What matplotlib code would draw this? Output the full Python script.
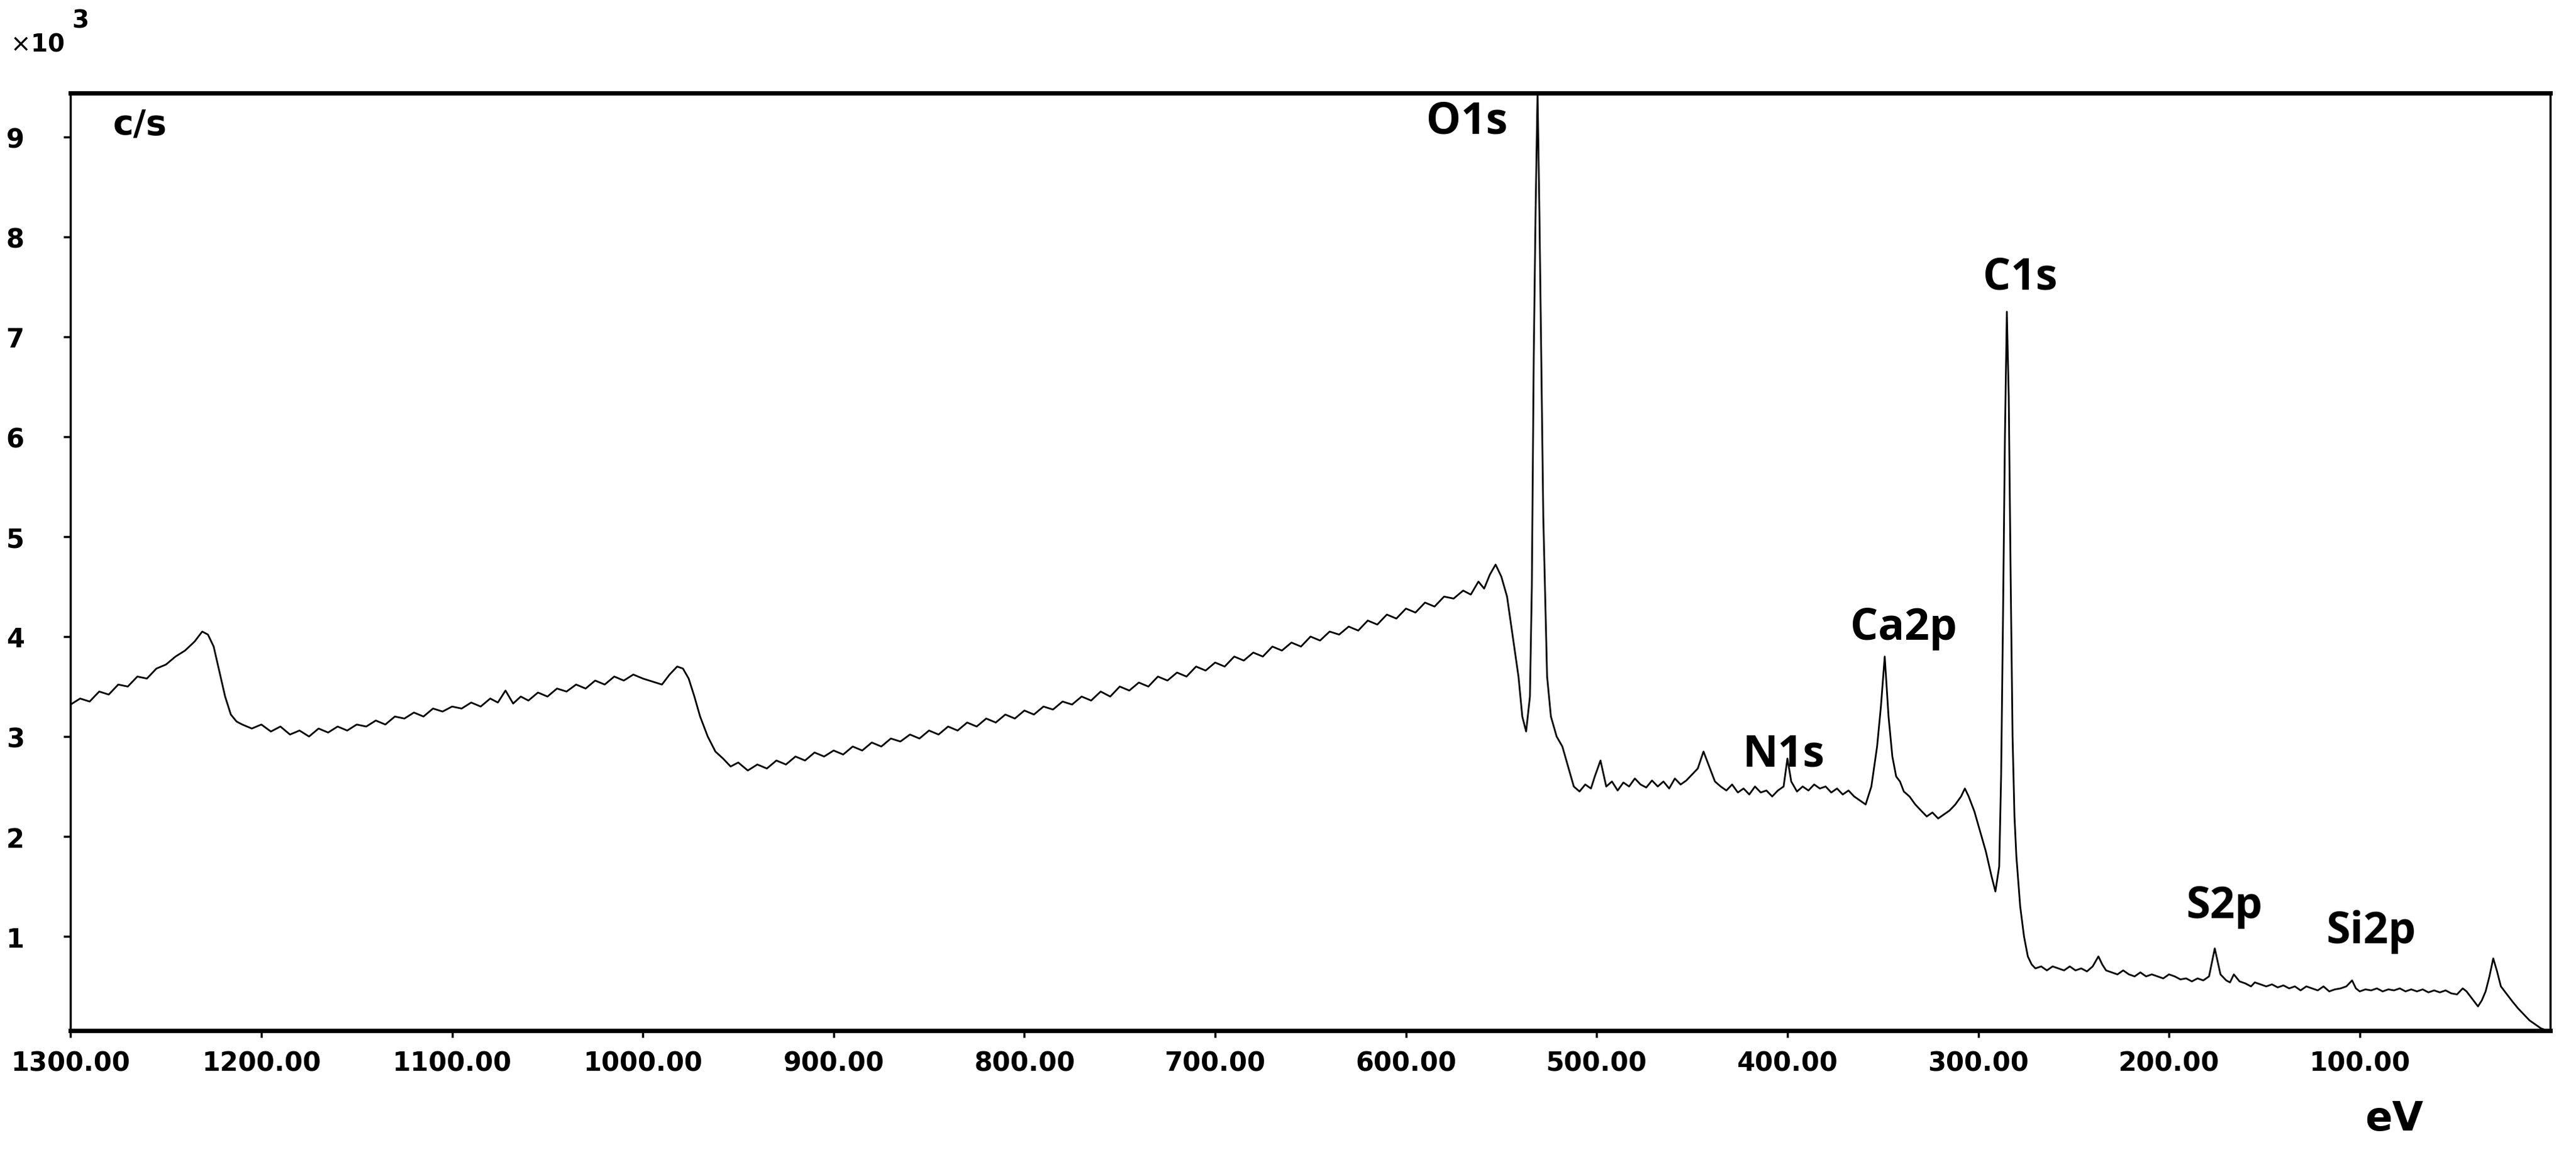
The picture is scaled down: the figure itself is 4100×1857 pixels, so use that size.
import matplotlib
matplotlib.use("Agg")
import matplotlib.pyplot as plt

binding_energy = [
1300,1295,1290,1285,1280,1275,1270,1265,1260,1255,1250,1245,1240,1235,1231,1228,1225,1222,1219,1216,1213,1210,
1205,1200,1195,1190,1185,1180,1175,1170,1165,1160,1155,1150,1145,1140,1135,1130,1125,1120,1115,1110,1105,1100,
1095,1090,1085,1080,1076,1072,1068,1064,1060,1055,1050,1045,1040,1035,1030,1025,1020,1015,1010,1005,1000,995,990,
986,982,979,976,973,970,966,962,958,954,950,945,940,935,930,925,920,915,910,905,900,895,890,885,880,875,870,865,860,
855,850,845,840,835,830,825,820,815,810,805,800,795,790,785,780,775,770,765,760,755,750,745,740,735,730,725,720,715,
710,705,700,695,690,685,680,675,670,665,660,655,650,645,640,635,630,625,620,615,610,605,600,595,590,585,580,575,570,
566,562,559,556,553,550,547,544,541,539,537,535,534,533,532,531,530,528,526,524,521,518,515,512,509,506,503,501,498,
495,492,489,486,483,480,477,474,471,468,465,462,459,456,453,450,447,444,441,438,435,432,429,426,423,420,417,414,411,
408,405,402,400,398,395,392,389,386,383,380,377,374,371,368,365,362,359,356,353,351,349,347,345,343,341,339,336,333,
330,327,324,321,318,315,312,309,307,305,302,299,296,293,291,289,288,287,286,285,284,283,282,281,280,278,276,274,272,
270,267,264,261,258,255,252,249,246,243,240,237,235,233,230,227,224,221,218,215,212,209,206,203,200,197,194,191,188,
185,182,179,176,173,170,168,166,163,160,157,155,152,149,146,143,140,137,134,131,128,125,122,119,116,113,110,107,104,
102,100,97,94,91,88,85,82,79,76,73,70,67,64,61,58,55,52,49,46,44,42,40,38,36,34,32,30,28,26,24,22,20,17,14,11,8,5,2,0]

counts_k = [
3.32,3.38,3.35,3.45,3.42,3.52,3.50,3.60,3.58,3.68,3.72,3.80,3.86,3.95,4.05,4.02,3.90,3.65,3.40,3.22,3.15,3.12,
3.08,3.12,3.05,3.10,3.02,3.06,3.00,3.08,3.04,3.10,3.06,3.12,3.10,3.16,3.12,3.20,3.18,3.24,3.20,3.28,3.25,3.30,
3.28,3.34,3.30,3.38,3.34,3.46,3.33,3.40,3.36,3.44,3.40,3.48,3.45,3.52,3.48,3.56,3.52,3.60,3.56,3.62,3.58,3.55,3.52,
3.62,3.70,3.68,3.58,3.40,3.20,3.00,2.85,2.78,2.70,2.74,2.66,2.72,2.68,2.76,2.72,2.80,2.76,2.84,2.80,2.86,2.82,2.90,2.86,2.94,2.90,2.98,2.95,3.02,
2.98,3.06,3.02,3.10,3.06,3.14,3.10,3.18,3.14,3.22,3.18,3.26,3.22,3.30,3.27,3.35,3.32,3.40,3.36,3.45,3.40,3.50,3.46,3.54,3.50,3.60,3.56,3.64,3.60,
3.70,3.66,3.74,3.70,3.80,3.76,3.84,3.80,3.90,3.86,3.94,3.90,4.00,3.96,4.05,4.02,4.10,4.06,4.16,4.12,4.22,4.18,4.28,4.24,4.34,4.30,4.40,4.38,4.46,
4.42,4.55,4.48,4.62,4.72,4.60,4.40,4.00,3.60,3.20,3.05,3.40,4.50,6.80,8.30,9.45,8.20,5.20,3.60,3.20,3.00,2.90,2.70,2.50,2.45,2.52,2.48,2.60,2.76,2.50,
2.55,2.46,2.54,2.50,2.58,2.52,2.49,2.56,2.50,2.55,2.48,2.58,2.52,2.56,2.62,2.68,2.85,2.70,2.55,2.50,2.46,2.52,2.44,2.48,2.42,2.50,2.44,2.46,2.40,
2.46,2.50,2.78,2.55,2.45,2.50,2.46,2.52,2.48,2.50,2.44,2.48,2.42,2.46,2.40,2.36,2.32,2.50,2.90,3.30,3.80,3.20,2.80,2.60,2.55,2.45,2.40,2.32,2.26,
2.20,2.24,2.18,2.22,2.26,2.32,2.40,2.48,2.40,2.25,2.05,1.85,1.60,1.45,1.70,2.60,4.20,6.00,7.25,6.40,4.60,3.00,2.20,1.80,1.30,1.00,0.80,0.72,
0.68,0.70,0.66,0.70,0.68,0.66,0.70,0.66,0.68,0.65,0.70,0.80,0.72,0.66,0.64,0.62,0.66,0.62,0.60,0.64,0.60,0.62,0.60,0.58,0.62,0.60,0.57,0.58,0.55,
0.58,0.56,0.60,0.88,0.62,0.56,0.54,0.62,0.55,0.53,0.50,0.54,0.52,0.50,0.52,0.49,0.51,0.48,0.50,0.46,0.50,0.48,0.46,0.50,0.45,0.47,0.48,0.50,
0.56,0.48,0.45,0.47,0.46,0.48,0.45,0.47,0.46,0.48,0.45,0.47,0.45,0.47,0.44,0.46,0.44,0.46,0.43,0.42,0.48,0.45,0.40,0.35,0.30,0.36,0.45,0.60,
0.78,0.65,0.50,0.45,0.40,0.35,0.28,0.22,0.16,0.12,0.08,0.06,0.04]

x_ticks = [1300,1200,1100,1000,900,800,700,600,500,400,300,200,100]
y_ticks = [1,2,3,4,5,6,7,8,9]
peak_names = ["O1s","C1s","Ca2p","N1s","S2p","Si2p"]
peak_lab_x = [568,278,339,402,171,94]
peak_lab_y = [9.15,7.59,4.09,2.82,1.3,1.05]

fig = plt.figure(figsize=(41,18.58), dpi=100)
ax = fig.add_axes([0.0274,0.117,0.9627,0.803])
ax.plot(binding_energy, counts_k, color="black", lw=2.0)
ax.set_xlim(1300,0)
ax.set_ylim(0.06,9.44)
ax.set_xticks(x_ticks)
ax.set_xticklabels([f"{t:.2f}" for t in x_ticks])
ax.set_yticks(y_ticks)
for s in ax.spines.values():
    s.set_linewidth(2.5)
ax.spines["top"].set_linewidth(5)
ax.spines["bottom"].set_linewidth(5)
ax.tick_params(axis="both", direction="out", length=8, width=2.5, labelsize=30)
for lab in ax.get_xticklabels()+ax.get_yticklabels():
    lab.set_fontweight("bold")
ax.tick_params(axis="y", pad=45)
ax.tick_params(axis="x", pad=14)
for n,px,py in zip(peak_names,peak_lab_x,peak_lab_y):
    ax.text(px, py, n, ha="center", va="center", fontsize=50, fontweight="bold", family="Open Sans")
ax.text(0.017,0.985,"c/s",transform=ax.transAxes,ha="left",va="top",fontsize=40,fontweight="bold")
fig.text(0.004,0.952,r"$\times$10",fontsize=28,fontweight="bold",ha="left",va="bottom")
fig.text(0.028,0.972,"3",fontsize=28,fontweight="bold",ha="left",va="bottom")
fig.text(0.918,0.025,"eV",fontsize=46,fontweight="bold",ha="left",va="bottom")
fig.savefig("out.png", dpi=100, facecolor="white")
